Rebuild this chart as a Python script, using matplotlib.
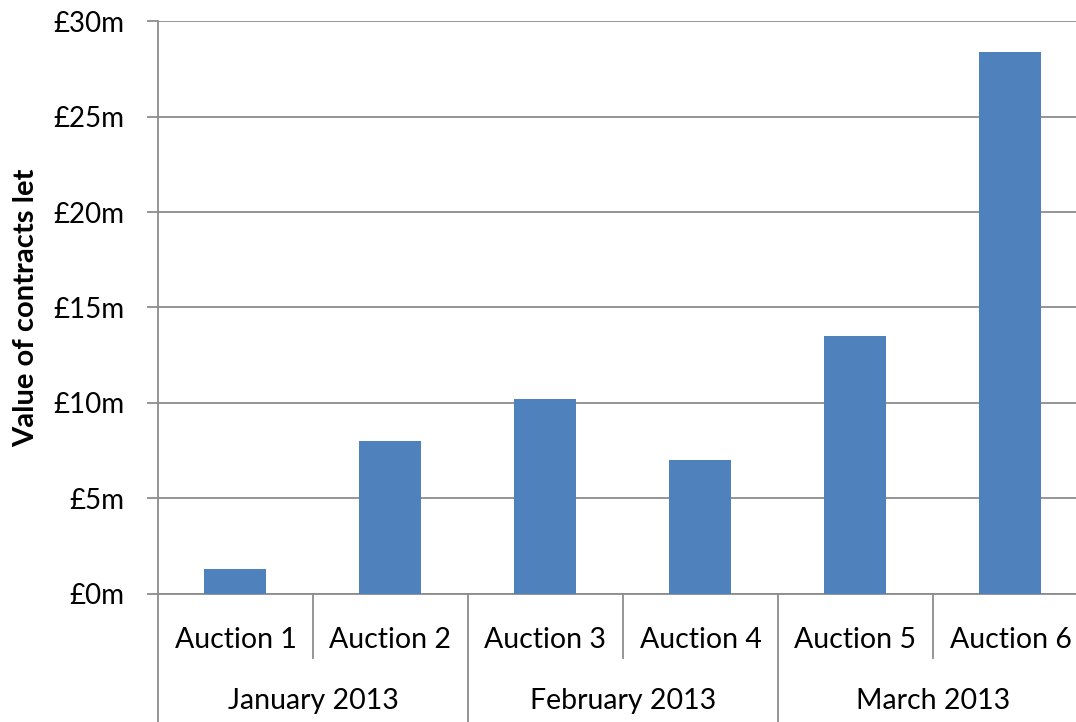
"""
Value of contracts let per auction, grouped by month (Jan-Mar 2013).
"""

import matplotlib

matplotlib.use("Agg")
import matplotlib.pyplot as plt
from matplotlib.ticker import FuncFormatter, MultipleLocator

auctions = ["Auction 1", "Auction 2", "Auction 3", "Auction 4", "Auction 5", "Auction 6"]
months = ["January 2013", "February 2013", "March 2013"]
auctions_per_month = [2, 2, 2]
values_m = [1.3, 8.0, 10.2, 7.0, 13.5, 28.4]

BAR_COLOR = "#4F81BD"
LINE_COLOR = "#8C8C8C"

plt.rcParams["font.family"] = ["Lato", "DejaVu Sans"]

fig = plt.figure(figsize=(10.76, 7.22), dpi=100)
ax = fig.add_axes([0.1468, 0.1773, 0.8643, 0.7936])

x = list(range(len(auctions)))
ax.bar(x, values_m, width=0.4, color=BAR_COLOR, zorder=3)

ax.set_xlim(-0.5, len(auctions) - 0.5)
ax.set_ylim(0, 30)
ax.yaxis.set_major_locator(MultipleLocator(5))
ax.yaxis.set_major_formatter(FuncFormatter(lambda v, _: f"£{v:.0f}m"))
ax.grid(axis="y", color=LINE_COLOR, linewidth=1.3, zorder=1)

for side in ["top", "right"]:
    ax.spines[side].set_visible(False)
for side in ["left", "bottom"]:
    ax.spines[side].set_color(LINE_COLOR)
    ax.spines[side].set_linewidth(1.3)

ax.tick_params(axis="y", length=8, width=1.3, color=LINE_COLOR, pad=16,
               labelsize=20)
ax.set_xticks([])

ax.set_ylabel("Value of contracts let", fontsize=21, fontweight="bold",
              labelpad=10)

# two-level category axis
trans = ax.get_xaxis_transform()
lvl1 = -0.1117
lvl2 = -0.2234
for i, name in enumerate(auctions):
    ax.text(i, -0.08, name, transform=trans, ha="center", va="center",
            fontsize=20.5)

start = 0
edges = [-0.5]
for month, n in zip(months, auctions_per_month):
    center = start + (n - 1) / 2
    ax.text(center, -0.186, month, transform=trans, ha="center", va="center",
            fontsize=20.5)
    for k in range(1, n):
        ax.plot([start + k - 0.5] * 2, [0, lvl1], transform=trans,
                color=LINE_COLOR, linewidth=1.3, clip_on=False)
    start += n
    edges.append(start - 0.5)

for e in edges:
    ax.plot([e, e], [0, lvl2], transform=trans, color=LINE_COLOR,
            linewidth=1.3, clip_on=False)

fig.savefig("out.png", dpi=100)
